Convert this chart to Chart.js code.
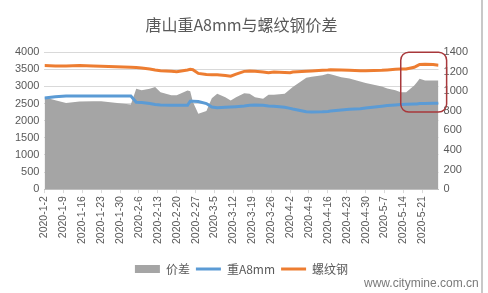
<!DOCTYPE html>
<html>
<head>
<meta charset="utf-8">
<script src="https://cdn.jsdelivr.net/npm/chart.js@4"></script>
<style>
  body { margin: 0; background: #fff; }
  #wrap { position: relative; width: 488px; height: 293px; }
  #edge { position: absolute; left: 481px; top: 0; width: 2px; height: 293px; background: #c8c8c8; }
  #mark { position: absolute; left: 364px; top: 276px; font: 12px 'Liberation Sans', sans-serif; color: #7a7a7a; }
</style>
</head>
<body>
<div id="wrap">
  <canvas id="myChart" width="488" height="293"></canvas>
  <div id="edge"></div>
  <span id="mark">www.citymine.com.cn</span>
</div>
<script>
const ctx = document.getElementById('myChart');

// dates (not every trading day)
const dates = [
  '2020-1-2', '2020-1-6', '2020-1-10', '2020-1-15', '2020-1-20', '2020-1-23',
  '2020-2-3', '2020-2-5', '2020-2-7', '2020-2-10', '2020-2-12', '2020-2-14',
  '2020-2-18', '2020-2-20', '2020-2-24', '2020-2-25', '2020-2-26', '2020-2-28',
  '2020-3-2', '2020-3-4', '2020-3-6', '2020-3-9', '2020-3-11', '2020-3-13',
  '2020-3-16', '2020-3-18', '2020-3-20', '2020-3-23', '2020-3-25', '2020-3-27',
  '2020-3-31', '2020-4-2', '2020-4-3', '2020-4-8', '2020-4-10', '2020-4-14',
  '2020-4-16', '2020-4-17', '2020-4-21', '2020-4-24', '2020-4-28', '2020-4-30',
  '2020-5-6', '2020-5-8', '2020-5-11', '2020-5-13', '2020-5-15', '2020-5-18',
  '2020-5-19', '2020-5-20', '2020-5-22', '2020-5-25', '2020-5-27'
];

// 价差 (right axis)
const spread = [
  940, 910, 880, 895, 898, 898,
  865, 1026, 1010, 1026, 1043, 991,
  960, 960, 1008, 1000, 890, 770,
  800, 930, 975, 940, 905, 940,
  980, 975, 940, 925, 965, 965,
  975, 1020, 1043, 1140, 1150, 1165,
  1180, 1175, 1145, 1130, 1100, 1085,
  1050, 1030, 1010, 990, 990, 1060,
  1094, 1128, 1111, 1110, 1110
];

// 重A8mm (left axis)
const a8 = [
  2660, 2700, 2720, 2720, 2720, 2720,
  2720, 2540, 2530, 2500, 2470, 2460,
  2450, 2450, 2450, 2570, 2570, 2560,
  2500, 2400, 2380, 2390, 2400, 2410,
  2430, 2450, 2460, 2450, 2430, 2420,
  2390, 2360, 2340, 2260, 2250, 2260,
  2270, 2280, 2310, 2330, 2350, 2370,
  2420, 2440, 2460, 2470, 2480, 2490,
  2490, 2500, 2500, 2510, 2510
];

// 螺纹钢 (left axis)
const rebar = [
  3610, 3600, 3600, 3610, 3600, 3590,
  3560, 3550, 3540, 3510, 3480, 3460,
  3440, 3430, 3480, 3500, 3490, 3380,
  3350, 3340, 3340, 3320, 3300, 3360,
  3440, 3450, 3440, 3420, 3400, 3420,
  3410, 3400, 3420, 3440, 3450, 3470,
  3480, 3490, 3480, 3470, 3460, 3460,
  3470, 3480, 3500, 3510, 3510, 3560,
  3600, 3640, 3650, 3640, 3620
];

const leftTicks = { min: 0, max: 4000, step: 500 };
const rightTicks = { min: 0, max: 1400, step: 200 };
const lastDay = '2020-5-27';

// red box drawn on the chart: date range and left-axis range
const boxDates = ['2020-5-13', '2020-5-30'];
const boxValues = [4000, 2250];

const base = Date.UTC(2020, 0, 2);
function dayOf(s) {
    const p = s.split('-').map(Number);
    return (Date.UTC(p[0], p[1] - 1, p[2]) - base) / 86400000;
}
function labelOf(n) {
    const t = new Date(base + n * 86400000);
    return t.getUTCFullYear() + '-' + (t.getUTCMonth() + 1) + '-' + t.getUTCDate();
}
function points(vals) {
    return dates.map((d, i) => ({ x: dayOf(d), y: vals[i] }));
}

const textColor = '#595959';
const cjk = "'Noto Sans CJK SC', sans-serif";
const numFont = { family: "'Liberation Sans', sans-serif", size: 11 };

const redBox = {
    id: 'redBox',
    afterDatasetsDraw(chart) {
        const x = chart.scales.x, y = chart.scales.y, c = chart.ctx;
        const x0 = x.getPixelForValue(dayOf(boxDates[0]));
        const x1 = x.getPixelForValue(dayOf(boxDates[1]));
        const y0 = y.getPixelForValue(boxValues[0]);
        const y1 = y.getPixelForValue(boxValues[1]);
        c.save();
        c.strokeStyle = '#a8383b';
        c.lineWidth = 1.5;
        c.beginPath();
        c.roundRect(x0, y0, x1 - x0, y1 - y0, 8);
        c.stroke();
        c.restore();
    }
};

new Chart(ctx, {
    type: 'line',
    data: {
        datasets: [
            {
                label: '价差',
                data: points(spread),
                yAxisID: 'y1',
                fill: 'origin',
                backgroundColor: '#a5a5a5',
                borderColor: '#a5a5a5',
                borderWidth: 0,
                pointRadius: 0,
                pointStyle: 'rect',
                order: 3
            },
            {
                label: '重A8mm',
                data: points(a8),
                yAxisID: 'y',
                borderColor: '#5b9bd5',
                backgroundColor: '#5b9bd5',
                borderWidth: 3,
                pointRadius: 0,
                pointStyle: 'line',
                order: 2
            },
            {
                label: '螺纹钢',
                data: points(rebar),
                yAxisID: 'y',
                borderColor: '#ed7d31',
                backgroundColor: '#ed7d31',
                borderWidth: 3,
                pointRadius: 0,
                pointStyle: 'line',
                order: 1
            }
        ]
    },
    options: {
        responsive: false,
        animation: false,
        layout: { padding: { left: 10, right: 15, top: 7, bottom: 8 } },
        plugins: {
            title: {
                display: true,
                text: '唐山重A8mm与螺纹钢价差',
                color: textColor,
                font: { family: cjk, size: 16, weight: 'normal' },
                padding: { top: 8, bottom: 18 }
            },
            legend: {
                position: 'bottom',
                labels: {
                    usePointStyle: true,
                    pointStyleWidth: 25,
                    boxHeight: 8,
                    padding: 6,
                    color: textColor,
                    font: { family: cjk, size: 12 },
                    sort: (a, b) => a.datasetIndex - b.datasetIndex
                }
            },
            tooltip: { enabled: false }
        },
        scales: {
            x: {
                type: 'linear',
                min: 0,
                max: dayOf(lastDay),
                afterBuildTicks: axis => {
                    axis.ticks = axis.ticks.filter(t => t.value % 7 === 0);
                },
                afterFit: axis => { axis.height += 10; },
                ticks: {
                    stepSize: 7,
                    autoSkip: false,
                    minRotation: 90,
                    maxRotation: 90,
                    color: textColor,
                    font: { family: "'Liberation Sans', sans-serif", size: 10.5 },
                    callback: v => labelOf(v)
                },
                grid: { drawOnChartArea: false, color: '#d9d9d9', tickLength: 4 },
                border: { color: '#bfbfbf' }
            },
            y: {
                position: 'left',
                min: leftTicks.min,
                max: leftTicks.max,
                ticks: {
                    stepSize: leftTicks.step,
                    color: textColor,
                    padding: 5,
                    font: numFont,
                    callback: v => String(v)
                },
                grid: { color: '#d9d9d9', drawTicks: false },
                border: { display: false }
            },
            y1: {
                position: 'right',
                min: rightTicks.min,
                max: rightTicks.max,
                ticks: {
                    stepSize: rightTicks.step,
                    color: textColor,
                    padding: 5,
                    font: numFont,
                    callback: v => String(v)
                },
                grid: { drawOnChartArea: false, drawTicks: false },
                border: { display: false }
            }
        }
    },
    plugins: [redBox]
});
</script>
</body>
</html>
